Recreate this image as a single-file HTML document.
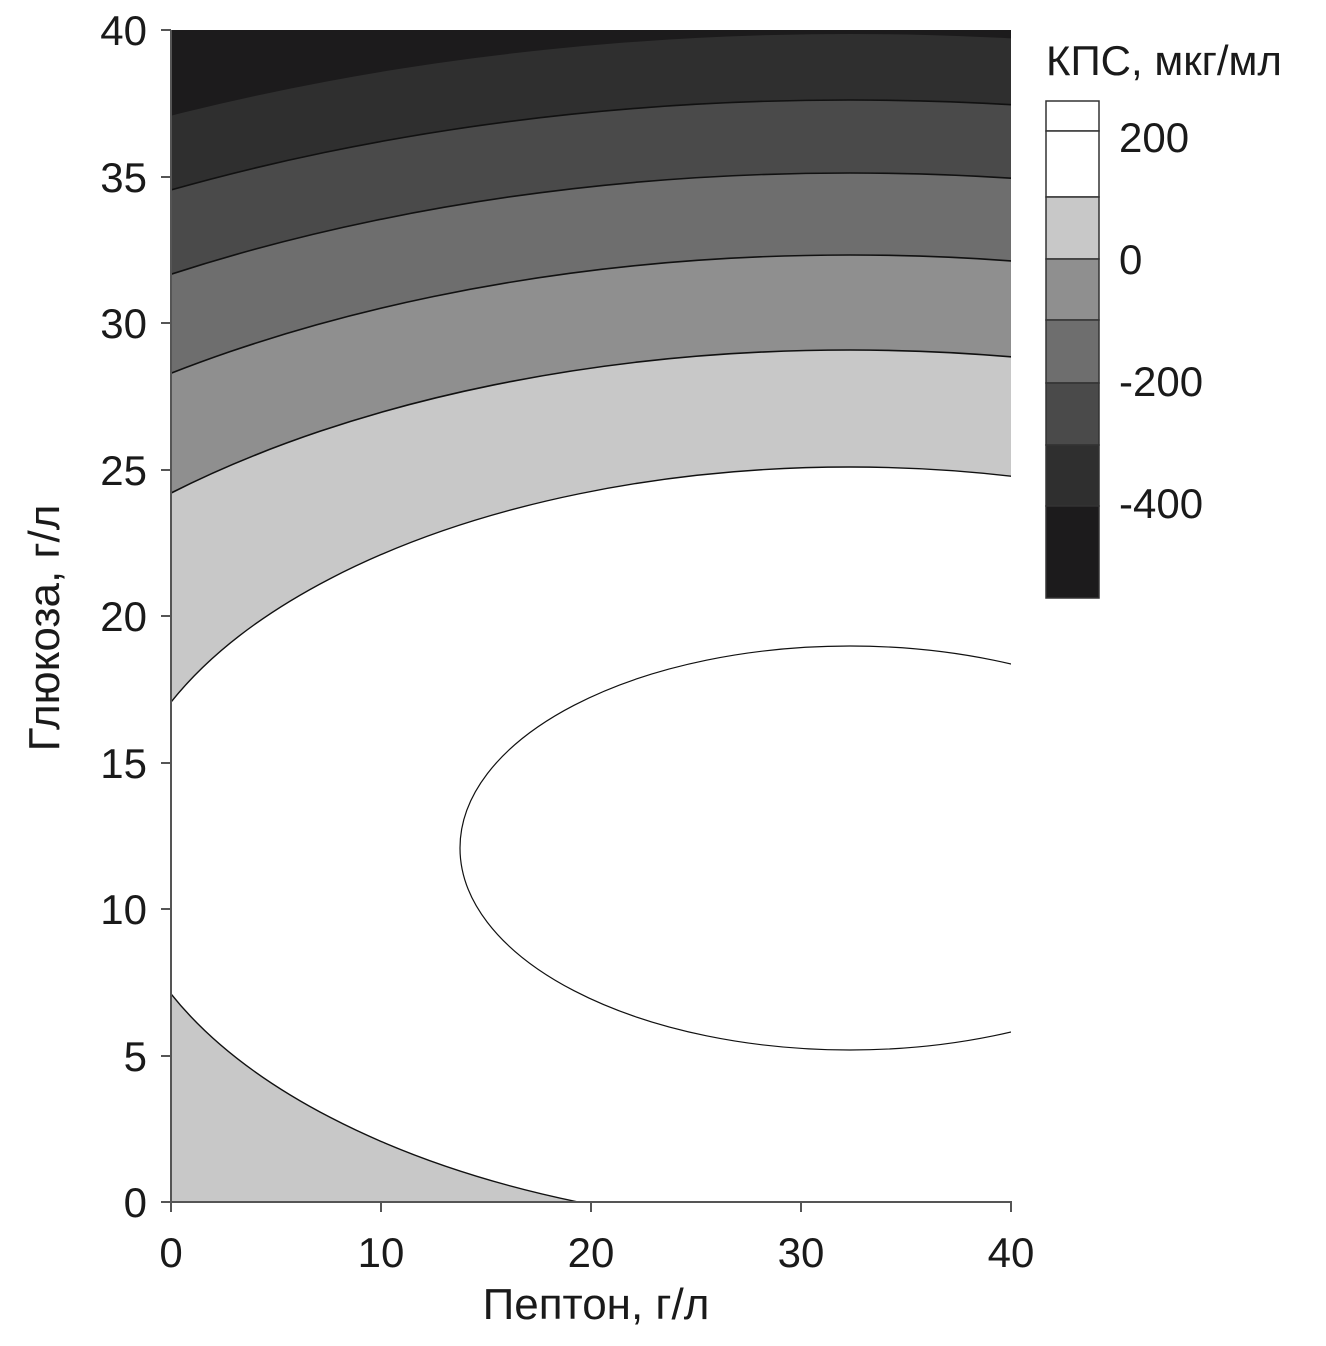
<!DOCTYPE html>
<html><head><meta charset="utf-8"><style>
html,body{margin:0;padding:0;background:#fff;overflow:hidden;width:1326px;height:1346px;}
svg{display:block;}
text{font-family:"Liberation Sans",Arial,sans-serif;fill:#1a1a1a;}
</style></head><body>
<svg width="1326" height="1346" viewBox="0 0 1326 1346" xmlns="http://www.w3.org/2000/svg">
<defs><clipPath id="c"><rect x="171" y="30" width="840" height="1172"/></clipPath></defs>
<g clip-path="url(#c)">
<rect x="171" y="30" width="840" height="1172" fill="#1c1b1c"/>
<ellipse cx="850" cy="848" rx="1555" ry="814" fill="#2f2f2f"/>
<ellipse cx="850" cy="848" rx="1428" ry="748" fill="#4a4a4a" stroke="#111" stroke-width="1.6"/>
<ellipse cx="850" cy="848" rx="1289" ry="675" fill="#6e6e6e" stroke="#111" stroke-width="1.6"/>
<ellipse cx="850" cy="848" rx="1133" ry="593" fill="#8f8f8f" stroke="#111" stroke-width="1.6"/>
<ellipse cx="850" cy="848" rx="968" ry="498" fill="#c8c8c8" stroke="#111" stroke-width="1.6"/>
<ellipse cx="850" cy="848" rx="735" ry="381" fill="#ffffff" stroke="#111" stroke-width="1.4"/>
<ellipse cx="850" cy="848" rx="390" ry="202" fill="#ffffff" stroke="#111" stroke-width="1.2"/>
</g>
<g stroke="#555" stroke-width="2" fill="none">
<line x1="171" y1="30" x2="171" y2="1203"/>
<line x1="170" y1="1202" x2="1012" y2="1202"/>
<line x1="161" y1="30" x2="171" y2="30"/>
<line x1="161" y1="177" x2="171" y2="177"/>
<line x1="161" y1="323" x2="171" y2="323"/>
<line x1="161" y1="470" x2="171" y2="470"/>
<line x1="161" y1="616" x2="171" y2="616"/>
<line x1="161" y1="763" x2="171" y2="763"/>
<line x1="161" y1="909" x2="171" y2="909"/>
<line x1="161" y1="1056" x2="171" y2="1056"/>
<line x1="161" y1="1202" x2="171" y2="1202"/>
<line x1="171" y1="1202" x2="171" y2="1212"/>
<line x1="381" y1="1202" x2="381" y2="1212"/>
<line x1="591" y1="1202" x2="591" y2="1212"/>
<line x1="801" y1="1202" x2="801" y2="1212"/>
<line x1="1011" y1="1202" x2="1011" y2="1212"/>
</g>
<g font-size="42" text-anchor="end">
<text x="147" y="45">40</text>
<text x="147" y="192">35</text>
<text x="147" y="338">30</text>
<text x="147" y="485">25</text>
<text x="147" y="631">20</text>
<text x="147" y="778">15</text>
<text x="147" y="924">10</text>
<text x="147" y="1071">5</text>
<text x="147" y="1217">0</text>
</g>
<g font-size="42" text-anchor="middle">
<text x="171" y="1267">0</text>
<text x="381" y="1267">10</text>
<text x="591" y="1267">20</text>
<text x="801" y="1267">30</text>
<text x="1011" y="1267">40</text>
</g>
<g font-size="44" text-anchor="middle">
<text x="596" y="1319">Пептон, г/л</text>
<text transform="translate(59,628) rotate(-90)">Глюкоза, г/л</text>
</g>
<text x="1046" y="75" font-size="42">КПС, мкг/мл</text>
<g stroke="#333" stroke-width="1.5">
<rect x="1046" y="101" width="53" height="30" fill="#fff"/>
<rect x="1046" y="131" width="53" height="66" fill="#fff"/>
<rect x="1046" y="197" width="53" height="62" fill="#c8c8c8"/>
<rect x="1046" y="259" width="53" height="61" fill="#8f8f8f"/>
<rect x="1046" y="320" width="53" height="63" fill="#6e6e6e"/>
<rect x="1046" y="383" width="53" height="62" fill="#4a4a4a"/>
<rect x="1046" y="445" width="53" height="61" fill="#2f2f2f"/>
<rect x="1046" y="506" width="53" height="92" fill="#1c1b1c"/>
</g>
<g font-size="42">
<text x="1119" y="152">200</text>
<text x="1119" y="274">0</text>
<text x="1119" y="396">-200</text>
<text x="1119" y="518">-400</text>
</g>
</svg>
</body></html>
